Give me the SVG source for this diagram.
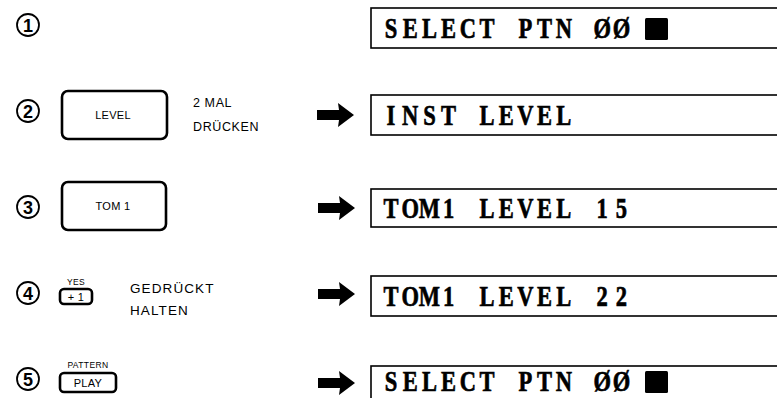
<svg xmlns="http://www.w3.org/2000/svg" width="777" height="398" viewBox="0 0 777 398">
<style>
.num{fill:none;stroke:#000;stroke-width:1.8}
.dig{font-family:"Liberation Sans",Arial,sans-serif;font-weight:bold;font-size:18px;text-anchor:middle;fill:#000}
.btn{fill:#fff;stroke:#000;stroke-width:2.6}
.bl{font-family:"Liberation Sans",Arial,sans-serif;font-size:11px;text-anchor:middle;fill:#000;letter-spacing:0.3px}
.sm{font-family:"Liberation Sans",Arial,sans-serif;font-size:8.5px;text-anchor:middle;fill:#000;letter-spacing:0.4px}
.lab{font-family:"Liberation Sans",Arial,sans-serif;font-size:12.5px;fill:#000;letter-spacing:0.6px}
.lab2{font-family:"Liberation Sans",Arial,sans-serif;font-size:13.5px;fill:#000;letter-spacing:1.1px}
.lcd{fill:#fff;stroke:#000;stroke-width:1.6}
.lt{font-family:"Liberation Serif","Times New Roman",serif;font-weight:bold;font-size:30px;fill:#000;stroke:#000;stroke-width:0.7;text-anchor:middle}
.arr{fill:#000}
</style>
<g id="step1">
<circle class="num" cx="28" cy="25" r="11"/><text class="dig" x="28" y="31.5">1</text>
</g>
<g id="step2">
<circle class="num" cx="28" cy="111" r="11"/><text class="dig" x="28" y="117.5">2</text>
<rect class="btn" x="62" y="91" width="105" height="48" rx="6"/>
<text class="bl" x="113" y="119">LEVEL</text>
<text class="lab" x="193" y="107">2 MAL</text>
<text class="lab" x="193" y="131">DRÜCKEN</text>
</g>
<g id="step3">
<circle class="num" cx="28" cy="207" r="11"/><text class="dig" x="28" y="213.5">3</text>
<rect class="btn" x="62" y="182" width="104" height="48" rx="6"/>
<text class="bl" x="113" y="210">TOM 1</text>
</g>
<g id="step4">
<circle class="num" cx="28" cy="293" r="11"/><text class="dig" x="28" y="299.5">4</text>
<text class="sm" x="76" y="285">YES</text>
<rect class="btn" x="60" y="289" width="32" height="15" rx="4"/>
<text class="bl" x="76" y="300.5">+ 1</text>
<text class="lab2" x="130" y="293">GEDRÜCKT</text>
<text class="lab2" x="130" y="315">HALTEN</text>
</g>
<g id="step5">
<circle class="num" cx="28" cy="379" r="11"/><text class="dig" x="28" y="385.5">5</text>
<text class="sm" x="88" y="368">PATTERN</text>
<rect class="btn" x="60" y="373" width="56" height="19" rx="4"/>
<text class="bl" x="88" y="386.5">PLAY</text>
</g>
<g id="lcd1">
<rect class="lcd" x="371" y="8" width="420" height="40"/>
<text class="lt" transform="scale(0.75,1)" y="38" x="521.33 546.93 572.53 598.13 623.73 649.33 674.93 700.53 726.13 751.73 777.33 802.93 828.53">SELECT PTN ØØ</text>
<rect x="645" y="18" width="23" height="22" rx="1.5"/>
</g>
<g id="lcd2">
<rect class="lcd" x="371" y="95" width="420" height="40"/>
<text class="lt" transform="scale(0.75,1)" y="125" x="521.33 546.93 572.53 598.13 623.73 649.33 674.93 700.53 726.13 751.73">INST LEVEL</text>
</g>
<g id="lcd3">
<rect class="lcd" x="371" y="189" width="420" height="38"/>
<text class="lt" transform="scale(0.75,1)" y="218" x="521.33 546.93 572.53 598.13 623.73 649.33 674.93 700.53 726.13 751.73 777.33 802.93 828.53">TOM1 LEVEL 15</text>
</g>
<g id="lcd4">
<rect class="lcd" x="371" y="276" width="420" height="40"/>
<text class="lt" transform="scale(0.75,1)" y="306" x="521.33 546.93 572.53 598.13 623.73 649.33 674.93 700.53 726.13 751.73 777.33 802.93 828.53">TOM1 LEVEL 22</text>
</g>
<g id="lcd5">
<rect class="lcd" x="371" y="366" width="420" height="50"/>
<text class="lt" transform="scale(0.75,1)" y="391" x="521.33 546.93 572.53 598.13 623.73 649.33 674.93 700.53 726.13 751.73 777.33 802.93 828.53">SELECT PTN ØØ</text>
<rect x="645" y="371" width="23" height="22" rx="1.5"/>
</g>
<g id="connectors">
<polygon class="arr" points="317,110 339,110 338,103 354,115 338,127 339,120 317,120"/>
<polygon class="arr" points="318,203 340,203 339,196 355,208 339,220 340,213 318,213"/>
<polygon class="arr" points="318,289 340,289 339,282 355,294 339,306 340,299 318,299"/>
<polygon class="arr" points="318,378 340,378 339,371 355,383 339,395 340,388 318,388"/>
</g>
</svg>
